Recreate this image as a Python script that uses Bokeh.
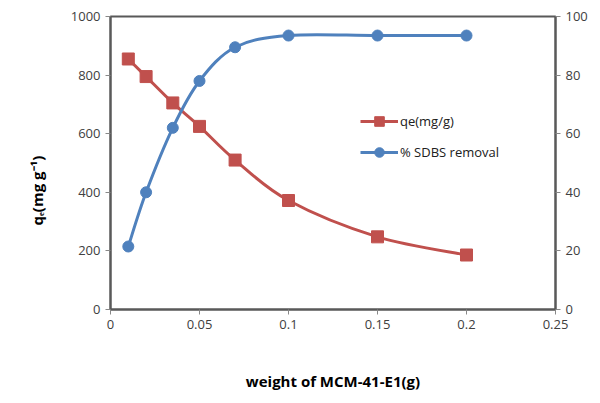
import numpy as np
from bokeh.plotting import figure
from bokeh.models import Range1d, LinearAxis, Legend, LegendItem, FixedTicker, Title
from bokeh.embed import file_html
from bokeh.resources import INLINE

weight = [0.01, 0.02, 0.035, 0.05, 0.07, 0.1, 0.15, 0.2]
qe = [855, 795, 705, 625, 510, 372, 248, 186]
removal = [21.5, 40, 62, 78, 89.5, 93.5, 93.5, 93.5]

x_ticks = [0, 0.05, 0.1, 0.15, 0.2, 0.25]
x_tick_labels = ["0", "0.05", "0.1", "0.15", "0.2", "0.25"]
y_ticks = [0, 200, 400, 600, 800, 1000]
y2_ticks = [0, 20, 40, 60, 80, 100]

RED = "#C0504D"
BLUE = "#4F81BD"
AX = "#595959"
FONT = "Open Sans"


def smooth_segments(x, y):
    x = np.asarray(x, float)
    y = np.asarray(y, float)
    xp = np.concatenate([[x[0]], x, [x[-1]]])
    yp = np.concatenate([[y[0]], y, [y[-1]]])
    seg = dict(x0=[], y0=[], x1=[], y1=[], cx0=[], cy0=[], cx1=[], cy1=[])
    for i in range(len(x) - 1):
        seg["x0"].append(xp[i + 1]); seg["y0"].append(yp[i + 1])
        seg["x1"].append(xp[i + 2]); seg["y1"].append(yp[i + 2])
        seg["cx0"].append(xp[i + 1] + (xp[i + 2] - xp[i]) / 6)
        seg["cy0"].append(yp[i + 1] + (yp[i + 2] - yp[i]) / 6)
        seg["cx1"].append(xp[i + 2] - (xp[i + 3] - xp[i + 1]) / 6)
        seg["cy1"].append(yp[i + 2] - (yp[i + 3] - yp[i + 1]) / 6)
    return seg


p = figure(frame_width=445, frame_height=293,
           x_range=Range1d(0, 0.25), y_range=Range1d(0, 1000),
           output_backend="svg", toolbar_location=None,
           min_border_left=110, min_border_right=37, min_border_top=16,
           min_border_bottom=84, background_fill_color="white",
           border_fill_color="white")
p.extra_y_ranges = {"pct": Range1d(0, 100)}
p.grid.visible = False
p.outline_line_color = AX
p.outline_line_width = 2

ax2 = LinearAxis(y_range_name="pct")
p.add_layout(ax2, "right")

for ax in [p.xaxis[0], p.yaxis[0], ax2]:
    ax.axis_line_color = AX
    ax.axis_line_width = 2
    ax.major_tick_line_color = "#888888"
    ax.major_tick_line_width = 1
    ax.major_tick_in = 0
    ax.major_tick_out = 5
    ax.minor_tick_line_color = None
    ax.major_label_text_font = FONT
    ax.major_label_text_font_size = "13px"
    ax.major_label_text_color = "#404040"
    ax.major_label_standoff = 5

p.xaxis.ticker = FixedTicker(ticks=x_ticks)
p.xaxis.major_label_overrides = {t: l for t, l in zip(x_ticks, x_tick_labels)}
p.yaxis[0].ticker = FixedTicker(ticks=y_ticks)
ax2.ticker = FixedTicker(ticks=y2_ticks)

p.xaxis.axis_label = "weight of MCM-41-E1(g)"
p.xaxis.axis_label_standoff = 39
p.xaxis.axis_label_text_font = FONT
p.xaxis.axis_label_text_font_size = "15px"
p.xaxis.axis_label_text_font_style = "bold"
p.xaxis.axis_label_text_color = "black"

ytitle = Title(text="qₑ(mg g⁻¹)", align="left", offset=84, standoff=42,
               text_font=FONT, text_font_size="15px", text_font_style="bold",
               text_color="black")
p.add_layout(ytitle, "left")

s1 = smooth_segments(weight, qe)
r1 = p.bezier(line_color=RED, line_width=3, **s1)
m1 = p.scatter(weight, qe, marker="square", size=12, color=RED)

s2 = smooth_segments(weight, removal)
r2 = p.bezier(line_color=BLUE, line_width=3, y_range_name="pct", **s2)
m2 = p.scatter(weight, removal, marker="circle", size=11, color=BLUE,
               y_range_name="pct")

legend = Legend(items=[LegendItem(label="qe(mg/g)", renderers=[r1, m1]),
                       LegendItem(label="% SDBS removal", renderers=[r2, m2])],
                location=(250, 145), border_line_color=None,
                background_fill_alpha=0, glyph_width=38, glyph_height=24,
                spacing=7, padding=4, label_standoff=2,
                label_text_font=FONT, label_text_font_size="13px",
                label_text_color="#202020")
p.add_layout(legend)

open("out.html", "w").write(file_html(p, INLINE))
